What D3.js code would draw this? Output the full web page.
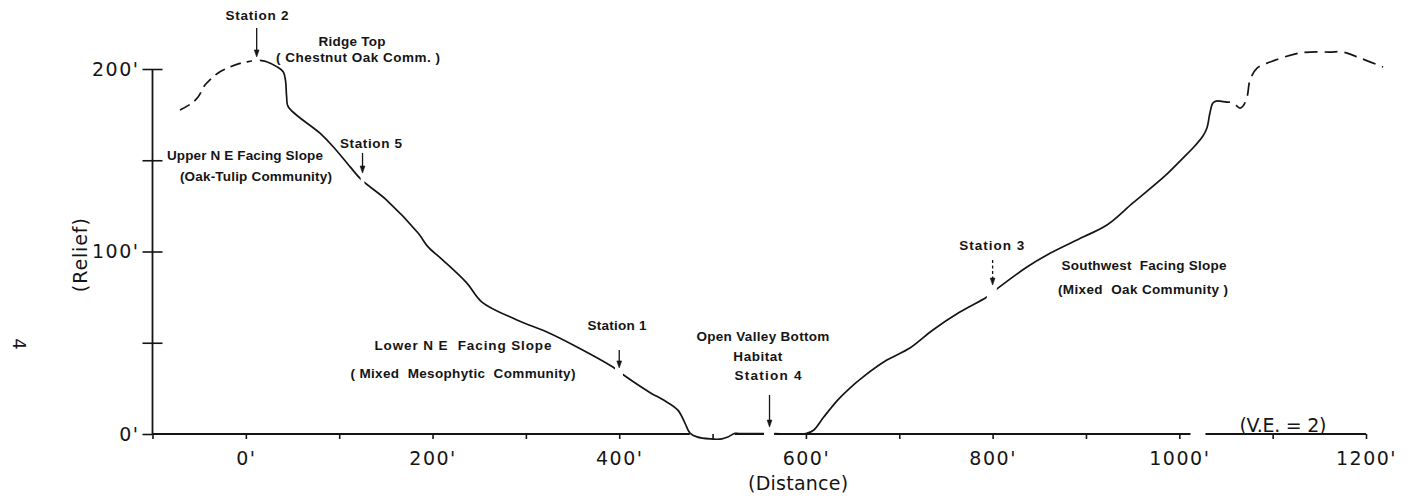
<!DOCTYPE html>
<html>
<head>
<meta charset="utf-8">
<script src="https://cdn.jsdelivr.net/npm/d3@7"></script>
<style>
  body { margin: 0; background: #fff; }
  svg { display: block; }
  .lbl { font-family: "Liberation Sans", Arial, sans-serif; font-weight: bold; font-size: 13.5px; fill: #151515; }
  .num { font-family: "DejaVu Sans", sans-serif; font-size: 19px; fill: #151515; }
  .tick text { font-family: "DejaVu Sans", sans-serif; font-size: 19px; fill: #151515; letter-spacing: 1.5px; }
  .tick line { stroke: #151515; stroke-width: 1.6; }
</style>
</head>
<body>
<svg id="chart" width="1422" height="500"></svg>
<script>
// Relief profile across the valley: [distance (ft), elevation (ft)]
// West ridge crest, inferred (dashed)
const westRidge = [
  [-70.6, 177.5], [-58.1, 181.2], [-51.0, 184.8], [-43.8, 191.2], [-38.5, 194.0],
  [-27.7, 198.5], [-6.3, 203.1], [6.2, 204.4], [11.6, 205.0]
];
// Surveyed transect (solid)
const surveyedProfile = [
  [11.6, 205.0], [15, 204.7], [22.3, 204.0], [33, 201.3], [40, 198.5], [42.4, 194.0],
  [43.7, 184.8], [45.4, 179.3], [79.4, 164.8], [93.6, 157.4], [111.5, 146.5],
  [124, 139.2], [150.8, 128.2], [184.5, 110.1], [195.2, 102.5], [211, 95.3],
  [236.8, 82.7], [252.9, 72.3], [290.4, 62.5], [322.5, 55.9], [354.7, 47.7],
  [393.2, 36.7], [404.7, 32.3], [433.6, 22.5], [447.5, 18.6], [462.6, 13.2],
  [470.4, 6.0], [475.8, 0.5], [483.3, -1.6], [497.2, -2.7], [510, -2.7],
  [516.4, -1.6], [523.9, 0.3], [529, 0.2], [565, 0.2], [600, 0.2], [608.5, 2.2],
  [619.1, 9.3], [634, 18.6], [647.1, 25.2], [661, 31.2], [686.7, 40.5],
  [711.4, 47.1], [736, 57.0], [764.9, 66.8], [793.8, 75.1], [804.6, 79.5],
  [836.8, 91.5], [858.2, 98.1], [896.8, 107.9], [922.5, 114.5], [950.3, 126.6],
  [984.6, 141.4], [1003.9, 151.2], [1014.6, 156.7], [1025.3, 163.3],
  [1029.6, 167.7], [1032.8, 175.9], [1036, 181.4], [1040.4, 182.5]
];
// East ridge, inferred (dashed)
const eastRidge = [
  [1040.4, 182.5], [1051, 181.9], [1057.6, 181.4], [1065, 178.6], [1068.3, 179.7],
  [1072.6, 184.7], [1075.8, 194.0], [1083.3, 200.5], [1097.2, 203.8],
  [1129.3, 208.8], [1161.5, 209.3], [1175.4, 209.3], [1193.6, 206.0], [1218.3, 201.1]
];

// Axis ticks
const xTickValues = d3.range(-100, 1201, 100);
const xLabelValues = [0, 200, 400, 600, 800, 1000, 1200];
const yTickValues = [0, 50, 100, 150, 200];
const yLabelValues = [0, 100, 200];

// Sampling stations: distance, arrow top and arrow tip elevations
const stations = [
  { name: "Station 2", dist: 11.6, top: 222.5, tip: 206.6 },
  { name: "Station 5", dist: 125,  top: 154.0, tip: 143.0 },
  { name: "Station 1", dist: 400,  top: 46.0,  tip: 36.2 },
  { name: "Station 4", dist: 561,  top: 21.4,  tip: 3.8 },
  { name: "Station 3", dist: 800,  top: 95.3,  tip: 81.6 }
];

// Breaks in the profile line at stations, and in the baseline
const profileBreaks = [[6.5, 15], [123, 127], [395.5, 404], [555, 566], [793.8, 804.5]];
const baselineBreaks = [[475.5, 524], [555, 566], [1012, 1028]];

// Text annotations: [text, distance, elevation]
const annotations = [
  ["Station 2", 12, 226.8],
  ["Ridge Top", 113.7, 212.6],
  ["( Chestnut Oak Comm. )", 120.1, 203.8],
  ["Station 5", 134, 156.7],
  ["Upper N E Facing Slope", -1, 150.1],
  ["(Oak-Tulip Community)", 10.8, 138.6],
  ["Lower N E  Facing Slope", 232.6, 46.0],
  ["( Mixed  Mesophytic  Community)", 232.6, 30.7],
  ["Station 1", 397.5, 57.0],
  ["Open Valley Bottom", 553.9, 51.0],
  ["Habitat", 548.5, 40.0],
  ["Station 4", 559.3, 29.6],
  ["Station 3", 799.2, 100.8],
  ["Southwest  Facing Slope", 962.1, 89.9],
  ["(Mixed  Oak Community )", 961.1, 76.7]
];

// ---------------------------------------------------------------
const svg = d3.select("#chart");
const ink = "#151515";

const x = d3.scaleLinear().domain([-100, 1200]).range([152.5, 1366]);
const y = d3.scaleLinear().domain([0, 200]).range([434, 69]);

// Clip paths that leave gaps in the line work
function clipFor(id, breaks) {
  const keep = [];
  let start = -300;
  breaks.forEach(([a, b]) => { keep.push([start, a]); start = b; });
  keep.push([start, 1500]);
  const cp = svg.append("defs").append("clipPath").attr("id", id);
  cp.selectAll("rect").data(keep).join("rect")
    .attr("x", d => x(d[0])).attr("width", d => x(d[1]) - x(d[0]))
    .attr("y", 0).attr("height", 500);
}
clipFor("profileClip", profileBreaks);
clipFor("baselineClip", baselineBreaks);

// Baseline (0') with its breaks
svg.append("line")
  .attr("clip-path", "url(#baselineClip)")
  .attr("x1", x(-100)).attr("x2", x(1200))
  .attr("y1", y(0)).attr("y2", y(0))
  .attr("stroke", ink).attr("stroke-width", 1.8);

// Vertical relief axis
svg.append("line")
  .attr("x1", x(-100)).attr("x2", x(-100))
  .attr("y1", y(200)).attr("y2", y(0))
  .attr("stroke", ink).attr("stroke-width", 1.8);

// Distance ticks and labels
const xAxis = svg.append("g")
  .attr("transform", `translate(0,${y(0)})`)
  .call(d3.axisBottom(x).tickValues(xTickValues).tickSize(5).tickPadding(12.5)
    .tickFormat(d => xLabelValues.includes(d) ? d + "'" : ""));
xAxis.select(".domain").remove();

// Relief ticks (crossing the axis) and labels
const yAxis = svg.append("g")
  .attr("transform", `translate(${x(-100)},0)`)
  .call(d3.axisLeft(y).tickValues(yTickValues).tickSize(10).tickPadding(3)
    .tickFormat(d => yLabelValues.includes(d) ? d + "'" : ""));
yAxis.select(".domain").remove();
const yAxisR = svg.append("g")
  .attr("transform", `translate(${x(-100)},0)`)
  .call(d3.axisRight(y).tickValues(yTickValues.filter(v => v > 0)).tickSize(10).tickFormat(""));
yAxisR.select(".domain").remove();

// Profile line work
const line = d3.line().x(d => x(d[0])).y(d => y(d[1])).curve(d3.curveCatmullRom.alpha(0.5));
const prof = svg.append("g").attr("clip-path", "url(#profileClip)")
  .attr("fill", "none").attr("stroke", ink).attr("stroke-width", 1.7)
  .attr("stroke-linejoin", "round");
prof.append("path").datum(westRidge).attr("d", line).attr("stroke-dasharray", "11,6");
prof.append("path").datum(surveyedProfile).attr("d", line);
prof.append("path").datum(eastRidge).attr("d", line).attr("stroke-dasharray", "13,7");

// Station arrows
const arrows = svg.append("g").attr("stroke", ink).attr("fill", ink);
stations.forEach(s => {
  const sx = x(s.dist), ty = y(s.tip), topY = y(s.top);
  arrows.append("line")
    .attr("x1", sx).attr("x2", sx).attr("y1", topY).attr("y2", ty - 5)
    .attr("stroke-width", 1.3)
    .attr("stroke-dasharray", s.name === "Station 3" ? "3,2.5" : null);
  arrows.append("path")
    .attr("d", `M${sx - 2.4},${ty - 7} L${sx + 2.4},${ty - 7} L${sx},${ty} Z`)
    .attr("stroke-width", 0.6);
});

// Annotation text, each stretched to its lettered width
const letteredWidth = {
  "Station 2": 63, "Ridge Top": 67, "( Chestnut Oak Comm. )": 164, "Station 5": 62,
  "Upper N E Facing Slope": 156, "(Oak-Tulip Community)": 152,
  "Lower N E  Facing Slope": 177, "( Mixed  Mesophytic  Community)": 225,
  "Station 1": 59, "Open Valley Bottom": 133, "Habitat": 49, "Station 4": 67,
  "Station 3": 65, "Southwest  Facing Slope": 165, "(Mixed  Oak Community )": 170
};
svg.append("g").selectAll("text").data(annotations).join("text")
  .attr("class", "lbl")
  .attr("x", d => x(d[1])).attr("y", d => y(d[2]))
  .attr("text-anchor", "middle")
  .attr("xml:space", "preserve")
  .style("white-space", "pre")
  .attr("textLength", d => letteredWidth[d[0]])
  .text(d => d[0]);

// Vertical exaggeration note
svg.append("text").attr("class", "num")
  .attr("x", x(1111)).attr("y", y(0) - 2)
  .attr("text-anchor", "middle")
  .attr("textLength", 87)
  .text("(V.E. = 2)");

// Axis titles
svg.append("text").attr("class", "num")
  .attr("x", x(591.6)).attr("y", 490)
  .attr("text-anchor", "middle")
  .attr("textLength", 100)
  .text("(Distance)");
svg.append("text").attr("class", "num")
  .attr("transform", `translate(87,${y(98)}) rotate(-90)`)
  .attr("text-anchor", "middle")
  .attr("textLength", 74)
  .text("(Relief)");

// Page number
svg.append("text").attr("class", "num")
  .attr("transform", "translate(13,344) rotate(90)")
  .attr("text-anchor", "middle")
  .style("font-size", "18px")
  .text("4");
</script>
</body>
</html>
